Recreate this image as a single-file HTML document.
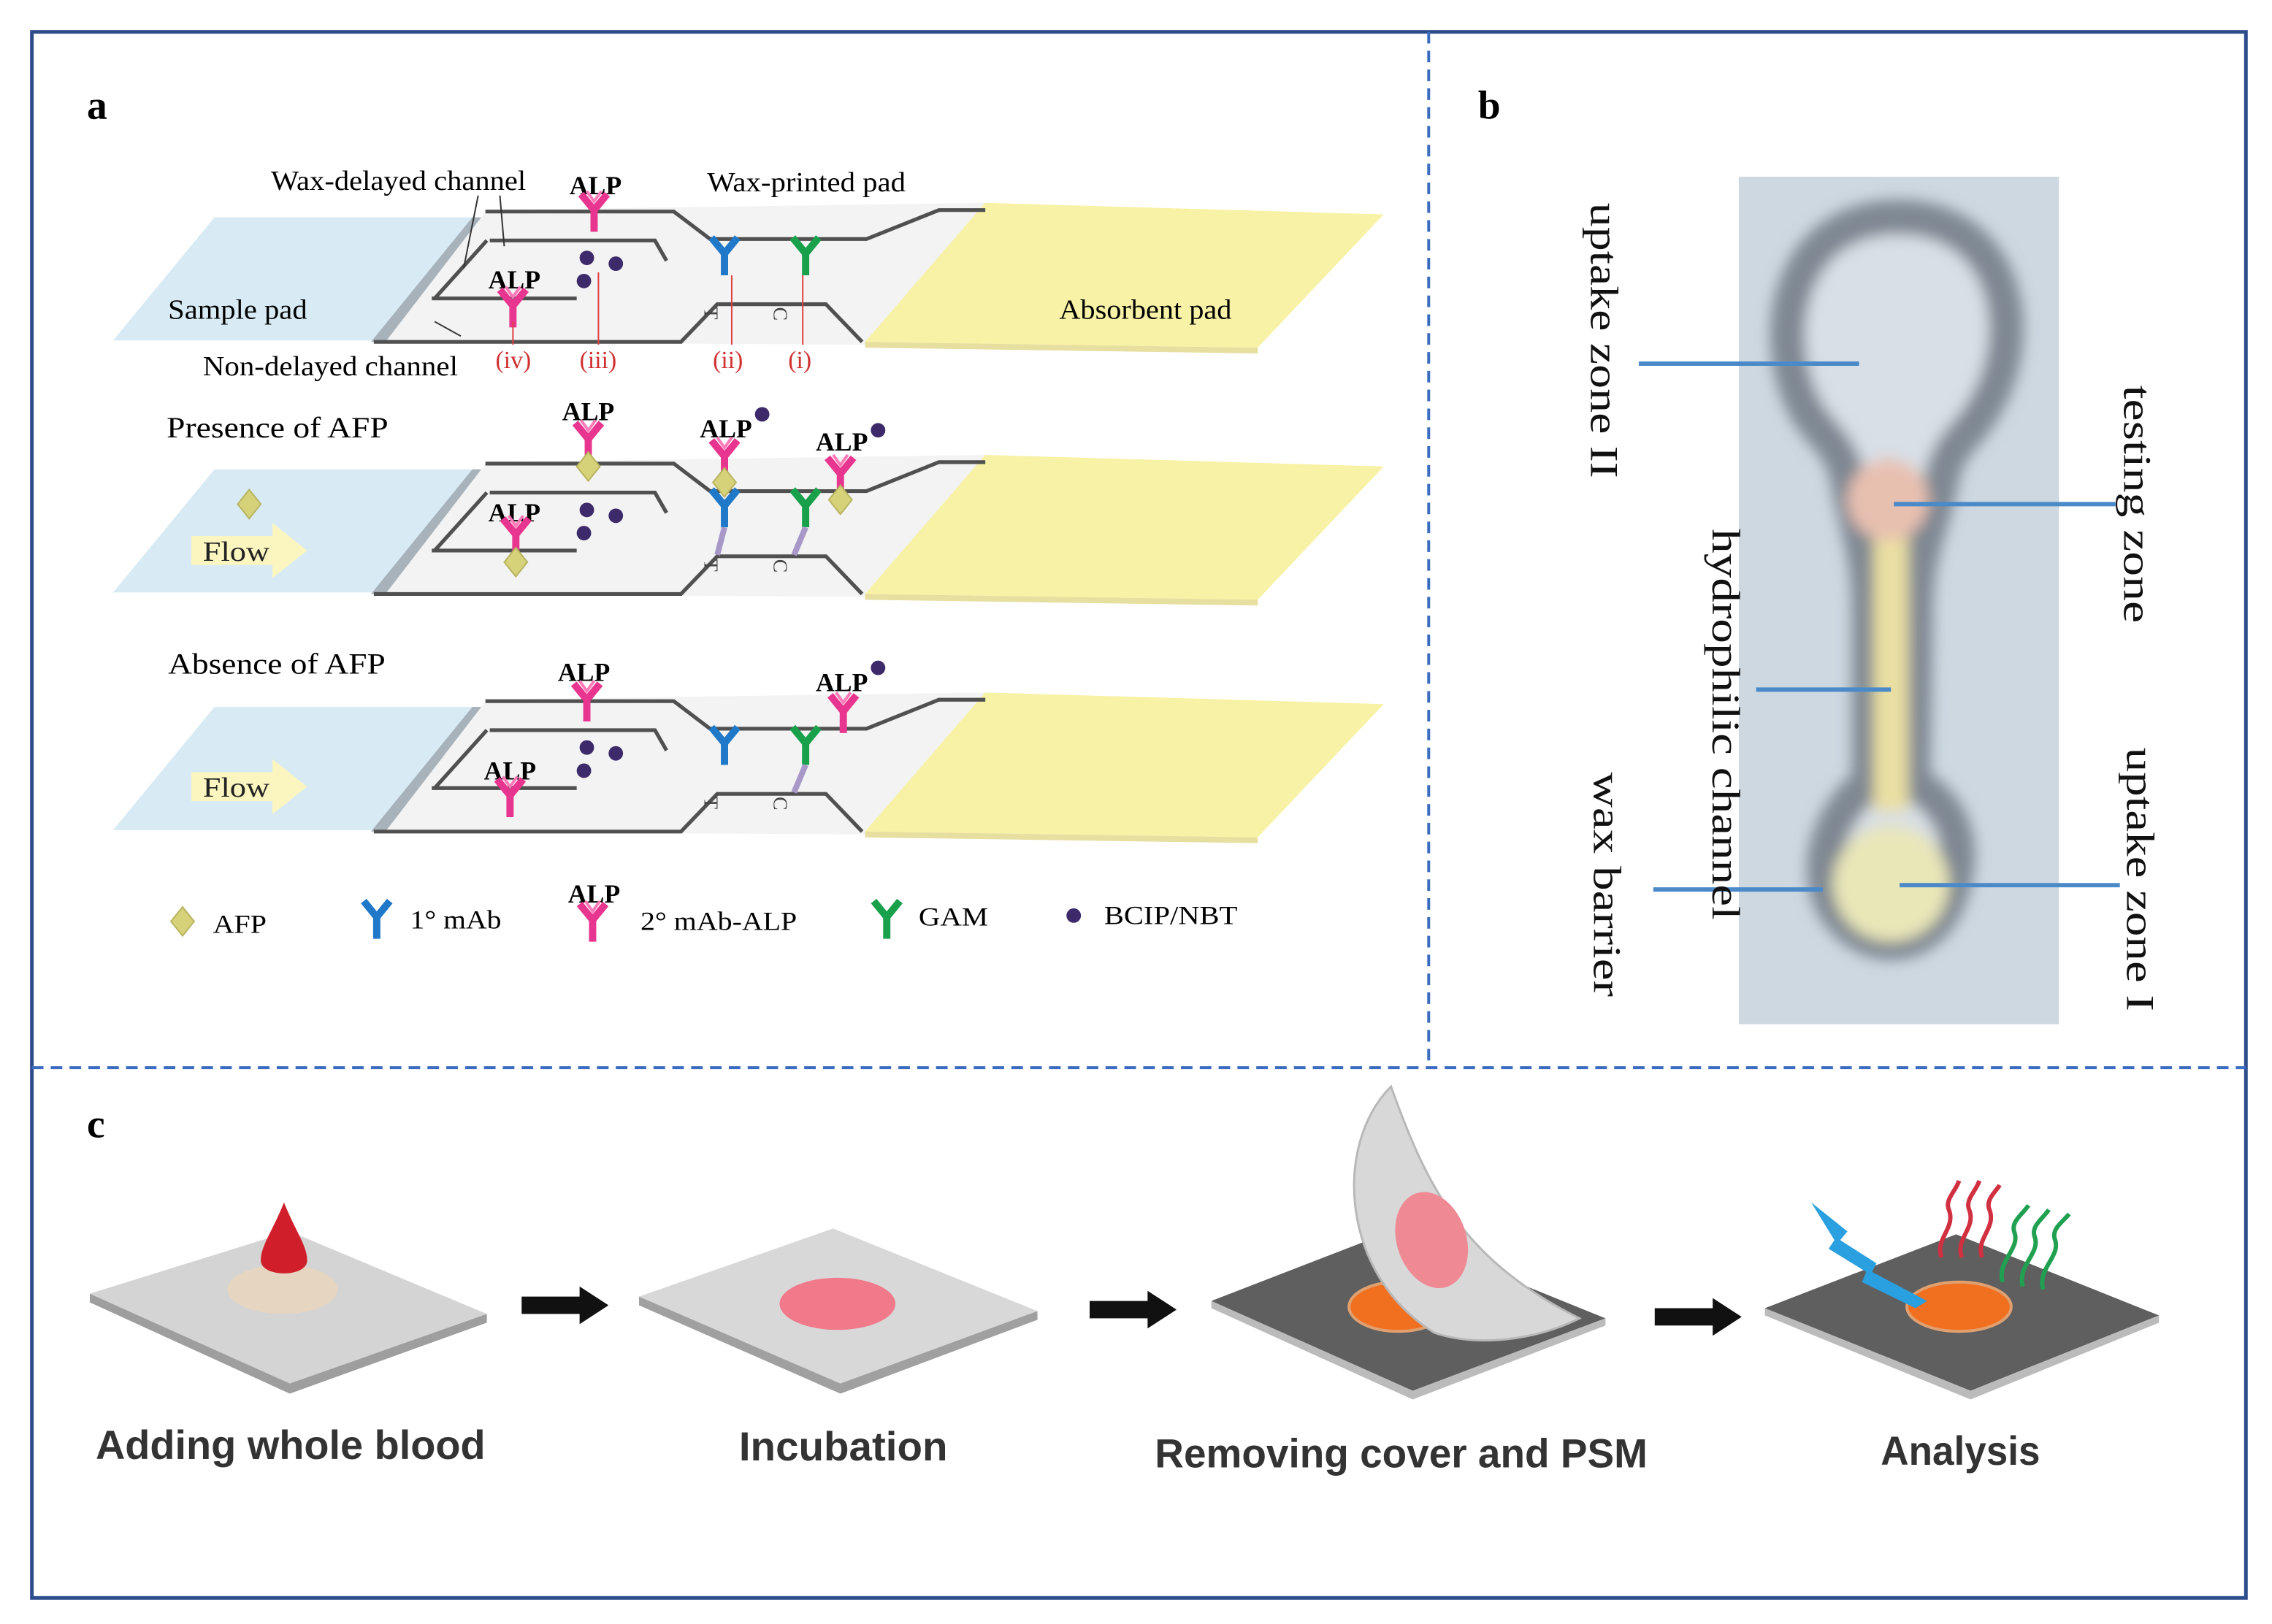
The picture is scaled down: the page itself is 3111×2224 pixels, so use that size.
<!DOCTYPE html>
<html><head><meta charset="utf-8"><style>html,body{margin:0;padding:0;background:#fff}svg{display:block}</style></head>
<body>
<svg width="3111" height="2224" viewBox="0 0 1568 1121" preserveAspectRatio="none" xmlns="http://www.w3.org/2000/svg" font-family="'Liberation Serif', serif">
<defs>
<filter id="bl" x="-20%" y="-20%" width="140%" height="140%"><feGaussianBlur stdDeviation="5"/></filter>
<g id="strip">
  <polygon points="78,235 148,150 330,150 260,235" fill="#d8ebf5"/>
  <polygon points="256,236 326,150 336,150 266,236" fill="#a7b2ba"/>
  <polygon points="266,236 336,145 680,140 600,238" fill="#f3f3f3"/>
  <polygon points="597,236 680,140 955,148 868,240" fill="#f8f2a6"/>
  <polygon points="597,236 868,240 868,244 597,240" fill="#e6dfa0"/>
  <g fill="none" stroke="#505050" stroke-width="2.6">
    <path d="M335,146 H465 L490,165 H598 L648,145 H680"/>
    <path d="M338,166 H452 L460,180"/>
    <path d="M336,166 L300,206"/>
    <path d="M298,206 H398"/>
    <path d="M258,236 H470 L495,210 H570 L595,236"/>
  </g>
  <text x="486" y="212" font-size="14" fill="#444" transform="rotate(90 486 212)">T</text>
  <text x="534" y="212" font-size="14" fill="#444" transform="rotate(90 534 212)">C</text>
</g>
<g id="abP"><path d="M-9,-14 L0,-3 L9,-14 M0,-3 V12" stroke="#e8358f" stroke-width="5" fill="none"/><path d="M-5,-16 L0,-9 L5,-16" stroke="#ff7ab8" stroke-width="2" fill="none"/></g>
<g id="abB"><path d="M-9,-12 L0,-1 L9,-12 M0,-1 V14" stroke="#1f78c8" stroke-width="5" fill="none"/></g>
<g id="abG"><path d="M-9,-12 L0,-1 L9,-12 M0,-1 V14" stroke="#19a04a" stroke-width="5" fill="none"/></g>
<g id="dots"><circle cx="405" cy="178" r="5" fill="#3d2a6a"/><circle cx="425" cy="182" r="5" fill="#3d2a6a"/><circle cx="403" cy="194" r="5" fill="#3d2a6a"/></g>
<polygon id="afp" points="0,-10 8,0 0,10 -8,0" fill="#d6d27a" stroke="#b8b460" stroke-width="1"/>
<g id="flow"><polygon points="-36,-10 20,-10 20,-19 44,0 20,19 20,10 -36,10" fill="#fbf6c0"/><text x="-28" y="7" font-size="19" fill="#222" textLength="46" lengthAdjust="spacingAndGlyphs">Flow</text></g>
</defs>

<rect x="22" y="22" width="1528" height="1081" fill="none" stroke="#2d4c8c" stroke-width="2.5"/>
<line x1="986" y1="22" x2="986" y2="737" stroke="#3b6cc0" stroke-width="2" stroke-dasharray="8,5"/>
<line x1="22" y1="737" x2="1550" y2="737" stroke="#3b6cc0" stroke-width="2" stroke-dasharray="8,5"/>
<text x="60" y="82" font-size="28" font-weight="bold">a</text>
<text x="1020" y="82" font-size="28" font-weight="bold">b</text>
<text x="60" y="785" font-size="28" font-weight="bold">c</text>

<g lengthAdjust="spacingAndGlyphs">
<use href="#strip"/>
<text x="116" y="220" font-size="19" textLength="96" lengthAdjust="spacingAndGlyphs">Sample pad</text>
<text x="731" y="220" font-size="19" textLength="119" lengthAdjust="spacingAndGlyphs">Absorbent pad</text>
<text x="187" y="131" font-size="19" textLength="176" lengthAdjust="spacingAndGlyphs">Wax-delayed channel</text>
<text x="488" y="132" font-size="19" textLength="137" lengthAdjust="spacingAndGlyphs">Wax-printed pad</text>
<text x="140" y="259" font-size="19" textLength="176" lengthAdjust="spacingAndGlyphs">Non-delayed channel</text>
<path d="M330,135 L320,185 M345,135 L348,170 M318,232 L300,222" stroke="#333" stroke-width="1" fill="none"/>
<text x="393" y="134" font-size="18" font-weight="bold">ALP</text>
<use href="#abP" x="410" y="148"/>
<text x="337" y="199" font-size="18" font-weight="bold">ALP</text>
<use href="#abP" x="354" y="214"/>
<use href="#dots"/>
<use href="#abB" x="500" y="176"/>
<use href="#abG" x="556" y="176"/>
<g stroke="#e04040" stroke-width="1"><line x1="354" y1="222" x2="354" y2="238"/><line x1="413" y1="188" x2="413" y2="238"/><line x1="505" y1="190" x2="505" y2="238"/><line x1="554" y1="190" x2="554" y2="238"/></g>
<g font-size="17" fill="#d03030"><text x="342" y="254">(iv)</text><text x="400" y="254">(iii)</text><text x="492" y="254">(ii)</text><text x="544" y="254">(i)</text></g>

<use href="#strip" y="174"/>
<text x="115" y="302" font-size="20" textLength="153" lengthAdjust="spacingAndGlyphs">Presence of AFP</text>
<use href="#afp" x="172" y="348"/>
<use href="#flow" x="168" y="380"/>
<text x="388" y="290" font-size="18" font-weight="bold">ALP</text>
<use href="#abP" x="406" y="306"/><use href="#afp" x="406" y="322"/>
<text x="337" y="360" font-size="18" font-weight="bold">ALP</text>
<use href="#abP" x="356" y="372"/><use href="#afp" x="356" y="388"/>
<use href="#dots" y="174"/>
<text x="483" y="302" font-size="18" font-weight="bold">ALP</text><circle cx="526" cy="286" r="5" fill="#3d2a6a"/>
<use href="#abP" x="500" y="318"/><use href="#afp" x="500" y="333"/>
<use href="#abB" x="500" y="350"/>
<text x="563" y="311" font-size="18" font-weight="bold">ALP</text><circle cx="606" cy="297" r="5" fill="#3d2a6a"/>
<use href="#abP" x="580" y="330"/><use href="#afp" x="580" y="345"/>
<use href="#abG" x="556" y="350"/>
<path d="M500,364 L495,383 M556,364 L548,383" stroke="#a898c8" stroke-width="4"/>

<use href="#strip" y="338"/>
<text x="116" y="465" font-size="20" textLength="150" lengthAdjust="spacingAndGlyphs">Absence of AFP</text>
<use href="#flow" x="168" y="543"/>
<text x="385" y="470" font-size="18" font-weight="bold">ALP</text>
<use href="#abP" x="405" y="486"/>
<text x="334" y="538" font-size="18" font-weight="bold">ALP</text>
<use href="#abP" x="352" y="552"/>
<use href="#dots" y="338"/>
<use href="#abB" x="500" y="514"/>
<text x="563" y="477" font-size="18" font-weight="bold">ALP</text><circle cx="606" cy="461" r="5" fill="#3d2a6a"/>
<use href="#abP" x="582" y="494"/>
<use href="#abG" x="556" y="514"/>
<path d="M556,528 L548,547" stroke="#a898c8" stroke-width="4"/>

<use href="#afp" x="126" y="636"/><text x="147" y="644" font-size="18" textLength="37" lengthAdjust="spacingAndGlyphs">AFP</text>
<use href="#abB" x="260" y="634"/><text x="283" y="641" font-size="18" textLength="63" lengthAdjust="spacingAndGlyphs">1° mAb</text>
<text x="392" y="623" font-size="18" font-weight="bold">ALP</text>
<use href="#abP" x="409" y="638"/><text x="442" y="642" font-size="18" textLength="108" lengthAdjust="spacingAndGlyphs">2° mAb-ALP</text>
<use href="#abG" x="612" y="634"/><text x="634" y="639" font-size="18" textLength="48" lengthAdjust="spacingAndGlyphs">GAM</text>
<circle cx="741" cy="632" r="5" fill="#3d2a6a"/><text x="762" y="638" font-size="18" textLength="92" lengthAdjust="spacingAndGlyphs">BCIP/NBT</text>
</g>

<rect x="1200" y="122" width="221" height="585" fill="#cdd8e1"/>
<g filter="url(#bl)">
  <path d="M1310,150 C1385,150 1400,230 1370,280 C1360,300 1345,305 1340,330 C1335,360 1322,380 1322,420 L1320,540 C1345,555 1360,580 1345,620 C1330,660 1285,660 1265,625 C1250,595 1265,560 1290,540 L1290,420 C1290,380 1280,360 1275,330 C1270,305 1255,300 1245,280 C1220,230 1235,150 1310,150 Z" fill="#d8dfe6" stroke="#7f8893" stroke-width="24"/>
  <circle cx="1305" cy="610" r="40" fill="#e9e6b8"/>
  <rect x="1293" y="360" width="24" height="200" fill="#eadfa2"/>
  <circle cx="1303" cy="345" r="28" fill="#e8c0b0"/>
</g>
<g stroke="#4a8ac8" stroke-width="3">
  <line x1="1131" y1="251" x2="1283" y2="251"/>
  <line x1="1307" y1="348" x2="1460" y2="348"/>
  <line x1="1212" y1="476" x2="1305" y2="476"/>
  <line x1="1141" y1="614" x2="1258" y2="614"/>
  <line x1="1311" y1="611" x2="1463" y2="611"/>
</g>
<g font-size="27" fill="#111">
  <text transform="translate(1098,140) rotate(90)" textLength="190" lengthAdjust="spacingAndGlyphs">uptake zone II</text>
  <text transform="translate(1466,266) rotate(90)" textLength="164" lengthAdjust="spacingAndGlyphs">testing zone</text>
  <text transform="translate(1182,365) rotate(90)" textLength="270" lengthAdjust="spacingAndGlyphs">hydrophilic channel</text>
  <text transform="translate(1100,533) rotate(90)" textLength="155" lengthAdjust="spacingAndGlyphs">wax barrier</text>
  <text transform="translate(1468,516) rotate(90)" textLength="182" lengthAdjust="spacingAndGlyphs">uptake zone I</text>
</g>

<g font-family="'Liberation Sans', sans-serif" font-weight="bold" font-size="28" fill="#333">
  <text x="66" y="1007" textLength="269" lengthAdjust="spacingAndGlyphs">Adding whole blood</text>
  <text x="510" y="1008" textLength="144" lengthAdjust="spacingAndGlyphs">Incubation</text>
  <text x="797" y="1013" textLength="340" lengthAdjust="spacingAndGlyphs">Removing cover and PSM</text>
  <text x="1298" y="1011" textLength="110" lengthAdjust="spacingAndGlyphs">Analysis</text>
</g>
<polygon points="62,893 200,850 336,907 200,955" fill="#d4d4d4"/>
<polygon points="62,893 200,955 336,907 336,913 200,962 62,899" fill="#9e9e9e"/>
<ellipse cx="195" cy="890" rx="38" ry="17" fill="#e6d5c0"/>
<path d="M196,830 C188,850 180,860 180,870 C180,882 212,882 212,870 C212,860 204,850 196,830 Z" fill="#d01f2a"/>
<polygon points="441,895 575,848 716,905 580,955" fill="#d8d8d8"/>
<polygon points="441,895 580,955 716,905 716,911 580,962 441,901" fill="#a0a0a0"/>
<ellipse cx="578" cy="900" rx="40" ry="18" fill="#f07a8a"/>
<polygon points="836,898 960,850 1108,910 975,960" fill="#5f5f5f"/>
<polygon points="836,898 975,960 1108,910 1108,915 975,966 836,903" fill="#bbb"/>
<ellipse cx="965" cy="902" rx="34" ry="17" fill="#f07020" stroke="#e0a070" stroke-width="2"/>
<path d="M960,750 C920,790 925,880 990,920 C1020,930 1060,925 1090,910 C1010,870 985,820 960,750 Z" fill="#d8d8d8" stroke="#b8b8b8" stroke-width="1.5"/>
<ellipse cx="988" cy="856" rx="24" ry="34" fill="#ef8a95" transform="rotate(-18 988 856)"/>
<polygon points="1218,903 1350,852 1490,908 1360,960" fill="#5f5f5f"/>
<polygon points="1218,903 1360,960 1490,908 1490,913 1360,966 1218,908" fill="#bbb"/>
<ellipse cx="1352" cy="902" rx="36" ry="17" fill="#f07020" stroke="#e0a070" stroke-width="2"/>
<polygon points="1250,830 1275,850 1270,856 1295,872 1292,878 1330,898 1322,903 1285,885 1288,878 1262,862 1266,856" fill="#2aa0e0"/>
<g fill="none" stroke="#d03040" stroke-width="3">
  <path d="M1340,868 C1335,855 1350,848 1345,835 C1342,828 1350,822 1352,815"/>
  <path d="M1354,868 C1349,855 1364,848 1359,835 C1356,828 1364,822 1366,815"/>
  <path d="M1368,868 C1363,855 1378,848 1373,835 C1370,828 1378,822 1380,818"/>
</g>
<g fill="none" stroke="#20a050" stroke-width="3">
  <path d="M1382,885 C1378,870 1395,862 1390,850 C1388,843 1396,838 1400,832"/>
  <path d="M1396,888 C1392,873 1409,865 1404,853 C1402,846 1410,841 1414,835"/>
  <path d="M1410,890 C1406,875 1423,867 1418,855 C1416,848 1424,843 1428,838"/>
</g>
<g fill="#111">
  <polygon points="360,895 400,895 400,888 420,901 400,914 400,907 360,907"/>
  <polygon points="752,898 792,898 792,891 812,904 792,917 792,910 752,910"/>
  <polygon points="1142,903 1182,903 1182,896 1202,909 1182,922 1182,915 1142,915"/>
</g>
</svg>
</body></html>
